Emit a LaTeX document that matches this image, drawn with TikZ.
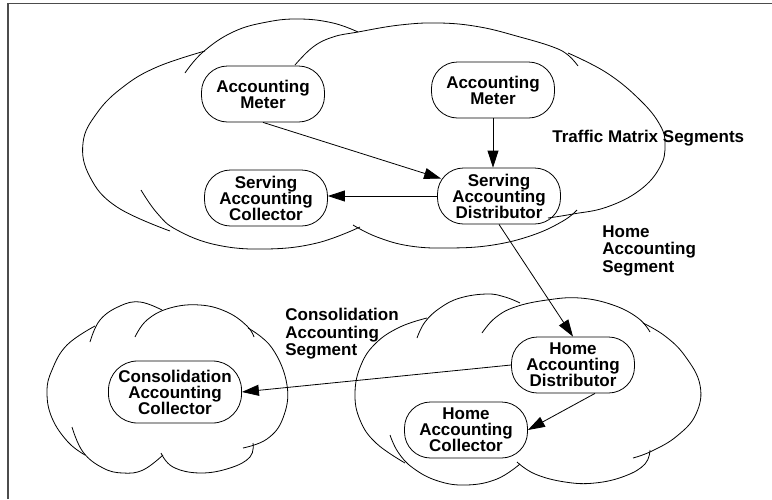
\documentclass[tikz,border=0pt]{standalone}
\usepackage{fontspec}
\setmainfont{Liberation Sans}
\usetikzlibrary{arrows.meta}

\begin{document}
\begin{tikzpicture}[x=1pt,y=-1pt,line width=.8pt,
  box/.style={draw,rounded corners=26pt,minimum width=123pt,minimum height=56pt,inner sep=2pt,align=center,font=\fontsize{17}{16}\selectfont\bfseries},
  lbl/.style={inner sep=0pt,align=left,font=\fontsize{17}{17.5}\selectfont\bfseries},
  arr/.style={-{Triangle[length=17pt,width=11pt]}},
  lobe/.style={smooth,tension=.7}]
\path[use as bounding box] (0,0) rectangle (772,499);
\draw[black!70,line width=1.3pt] (8,499) -- (8,3.5) -- (772,3.5);
% traffic matrix cloud
\draw[lobe] plot coordinates {(205,51) (157,67) (123,87) (97,113) (83,143) (90,177) (117,207) (170,231)};
\draw[lobe] plot coordinates {(185,73) (203,52) (233,32) (267,22) (300,19) (333,23) (358,32)};
\draw[lobe] plot coordinates {(295,65) (313,47) (333,37) (358,32) (400,25) (440,23) (480,27) (520,37) (553,47) (568,55) (578,66)};
\draw[lobe] plot coordinates {(568,53) (607,73) (640,100) (660,125) (665,145) (660,167) (640,190) (607,207) (573,214) (548,218)};
\draw[lobe] plot coordinates {(353,225) (377,237) (410,246) (450,248) (493,245) (533,235) (563,221) (577,210)};
\draw[lobe] plot coordinates {(141,190) (157,213) (177,230) (217,245) (267,249) (317,243) (360,227)};
% home cloud
\draw[lobe] plot coordinates {(427,318) (400,327) (376,343) (361,365) (355,393) (360,420) (376,443) (405,463)};
\draw[lobe] plot coordinates {(417,338) (425,322) (440,308) (460,298) (487,294) (505,297) (520,303)};
\draw[lobe] plot coordinates {(482,333) (495,318) (515,307) (547,300) (580,298) (613,305) (638,318) (650,332)};
\draw[lobe] plot coordinates {(643,323) (665,336) (685,356) (700,385) (696,414) (677,436) (652,451) (633,458)};
\draw[lobe] plot coordinates {(650,450) (645,464) (625,476) (595,483) (565,482) (535,474) (517,462)};
\draw[lobe] plot coordinates {(390,435) (398,452) (413,468) (438,481) (467,485) (497,479) (520,464)};
% consolidation cloud
\draw[lobe] plot coordinates {(95,326) (67,345) (52,370) (47,392) (52,418) (68,442) (85,455)};
\draw[lobe] plot coordinates {(90,342) (100,320) (120,306) (140,302) (162,310)};
\draw[lobe] plot coordinates {(135,337) (147,320) (170,308) (200,305) (227,312) (247,326) (254,337)};
\draw[lobe] plot coordinates {(248,328) (272,348) (287,385) (283,418) (267,439) (243,448)};
\draw[lobe] plot coordinates {(253,443) (250,457) (230,468) (200,473) (173,467) (161,453)};
\draw[lobe] plot coordinates {(72,427) (83,452) (103,468) (123,473) (143,470) (163,455)};
% boxes
\node[box] (meterA) at (263,94) {Accounting\\Meter};
\node[box] (meterB) at (493,90) {Accounting\\Meter};
\node[box] (servDist) at (499,196) {Serving\\Accounting\\Distributor};
\node[box] (servColl) at (266,198) {Serving\\Accounting\\Collector};
\node[box] (homeDist) at (573,365) {Home\\Accounting\\Distributor};
\node[box] (homeColl) at (466,430) {Home\\Accounting\\Collector};
\node[box,minimum width=133pt,minimum height=62pt,rounded corners=29pt] (consColl) at (175,392) {Consolidation\\Accounting\\Collector};
% labels
\node[lbl,anchor=base west] (trafficLbl) at (552,142) {Traffic Matrix Segments};
\node[lbl,anchor=north west] (homeLbl) at (602,225) {Home\\Accounting\\Segment};
\node[lbl,anchor=north west] (consLbl) at (285,308) {Consolidation\\Accounting\\Segment};
% arrows
\draw[arr] (meterA.south) -- ([xshift=4pt,yshift=-11pt]servDist.north west);
\draw[arr] (meterB.south) -- (meterB.south |- servDist.north);
\draw[arr] (servDist.west) -- (servDist.west -| servColl.east);
\draw[arr] (servDist.south) -- (homeDist.north);
\draw[arr] (homeDist.west) -- (consColl.east);
\draw[arr] ([xshift=22pt]homeDist.south) -- (homeColl.east);
\end{tikzpicture}
\end{document}
